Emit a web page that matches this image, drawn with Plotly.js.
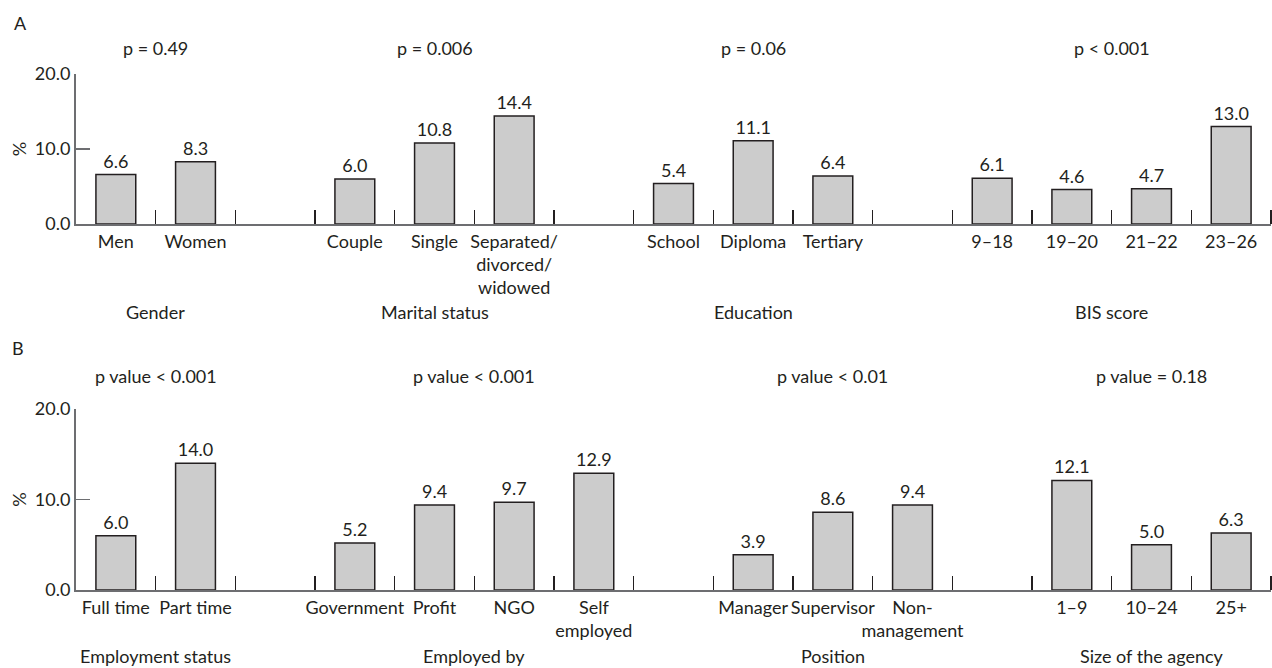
<!DOCTYPE html>
<html>
<head>
<meta charset="utf-8">
<script src="https://cdn.plot.ly/plotly-3.0.1.min.js"></script>
<style>
  html, body { margin: 0; padding: 0; background: #ffffff; }
  #chart { width: 1272px; height: 668px; }
</style>
</head>
<body>
<div id="chart"></div>
<script>
// ---------- Panel A data ----------
const genderLabels = ['Men', 'Women'];
const genderValues = [6.6, 8.3];
const maritalLabels = ['Couple', 'Single', 'Separated/<br>divorced/<br>widowed'];
const maritalValues = [6.0, 10.8, 14.4];
const educationLabels = ['School', 'Diploma', 'Tertiary'];
const educationValues = [5.4, 11.1, 6.4];
const bisLabels = ['9–18', '19–20', '21–22', '23–26'];
const bisValues = [6.1, 4.6, 4.7, 13.0];
const panelATitles = ['Gender', 'Marital status', 'Education', 'BIS score'];
const panelAPvalues = ['p = 0.49', 'p = 0.006', 'p = 0.06', 'p < 0.001'];

// ---------- Panel B data ----------
const employmentLabels = ['Full time', 'Part time'];
const employmentValues = [6.0, 14.0];
const employerLabels = ['Government', 'Profit', 'NGO', 'Self<br>employed'];
const employerValues = [5.2, 9.4, 9.7, 12.9];
const positionLabels = ['Manager', 'Supervisor', 'Non-<br>management'];
const positionValues = [3.9, 8.6, 9.4];
const agencyLabels = ['1–9', '10–24', '25+'];
const agencyValues = [12.1, 5.0, 6.3];
const panelBTitles = ['Employment status', 'Employed by', 'Position', 'Size of the agency'];
const panelBPvalues = ['p value < 0.001', 'p value < 0.001', 'p value < 0.01', 'p value = 0.18'];

const yTicks = [0, 10, 20];

// ---------- styling ----------
const FONT = 'Lato, "Open Sans", sans-serif';
const TXT = '#231f20';
const AXC = '#6d6e71';
const FS = 18;

function buildPanel(labelGroups, valueGroups) {
  const xs = [], ys = [], labels = [], centers = [], bounds = [];
  let pos = 0;
  labelGroups.forEach((labs, gi) => {
    const start = pos;
    labs.forEach((lab, i) => {
      xs.push(pos); ys.push(valueGroups[gi][i]); labels.push(lab);
      pos++;
    });
    centers.push((start + pos - 1) / 2);
    pos++; // empty slot between groups
  });
  const nSlots = pos - 1;
  for (let b = 0; b < nSlots; b++) bounds.push(b + 0.5);
  return { xs, ys, labels, centers, nSlots, bounds };
}

const A = buildPanel([genderLabels, maritalLabels, educationLabels, bisLabels],
                     [genderValues, maritalValues, educationValues, bisValues]);
const B = buildPanel([employmentLabels, employerLabels, positionLabels, agencyLabels],
                     [employmentValues, employerValues, positionValues, agencyValues]);

function barTrace(P, xa, ya) {
  return {
    type: 'bar', x: P.xs, y: P.ys, xaxis: xa, yaxis: ya,
    width: 0.5,
    marker: { color: '#cccccc', line: { color: TXT, width: 1.5 } },
    texttemplate: '%{y:.1f}', textposition: 'outside', cliponaxis: false,
    textfont: { family: FONT, size: FS, color: TXT },
    hoverinfo: 'skip', showlegend: false
  };
}

function xAxis(P, anchor) {
  return {
    anchor: anchor, domain: [0, 1], range: [-0.5, P.nSlots - 0.5],
    tickmode: 'array', tickvals: P.xs, ticktext: P.labels, ticks: '',
    tickangle: 0,
    tickfont: { family: FONT, size: FS, color: TXT },
    showline: true, linecolor: AXC, linewidth: 2,
    showgrid: false, zeroline: false, fixedrange: true,
    minor: { tickmode: 'array', tickvals: P.bounds, ticks: 'inside', ticklen: 14,
             tickwidth: 1.5, tickcolor: TXT, showgrid: false }
  };
}

function yAxis(domain, anchor) {
  return {
    anchor: anchor, domain: domain, range: [0, 20],
    tickmode: 'array', tickvals: yTicks, tickformat: '.1f',
    ticks: 'inside', ticklen: 14, tickwidth: 1.5, tickcolor: AXC,
    tickfont: { family: FONT, size: FS, color: TXT },
    showline: true, linecolor: AXC, linewidth: 2,
    showgrid: false, zeroline: false, fixedrange: true,
    title: { text: '%', standoff: 4, font: { family: FONT, size: FS, color: TXT } }
  };
}

const annotations = [];
function panelAnnotations(P, titles, pvals, xref, ydom, pShift, tShift) {
  P.centers.forEach((c, i) => {
    annotations.push({ xref: xref, yref: ydom, x: c, y: 1, yanchor: 'middle', xanchor: 'center',
      yshift: pShift, text: pvals[i], showarrow: false,
      font: { family: FONT, size: FS, color: TXT } });
    annotations.push({ xref: xref, yref: ydom, x: c, y: 0, yanchor: 'middle', xanchor: 'center',
      yshift: tShift, text: titles[i], showarrow: false,
      font: { family: FONT, size: FS, color: TXT } });
  });
}
panelAnnotations(A, panelATitles, panelAPvalues, 'x', 'y domain', 26, -88);
panelAnnotations(B, panelBTitles, panelBPvalues, 'x2', 'y2 domain', 33, -66);

const L = 76, R = 1, W = 1272;
const plotW = W - L - R;
annotations.push({ xref: 'paper', yref: 'y domain', x: (20 - L) / plotW, y: 1, yshift: 51,
  xanchor: 'center', yanchor: 'middle', text: 'A', showarrow: false,
  font: { family: FONT, size: FS, color: TXT } });
annotations.push({ xref: 'paper', yref: 'y2 domain', x: (18 - L) / plotW, y: 1, yshift: 61,
  xanchor: 'center', yanchor: 'middle', text: 'B', showarrow: false,
  font: { family: FONT, size: FS, color: TXT } });

const layout = {
  width: 1272, height: 668,
  margin: { l: L, r: R, t: 74, b: 78, pad: 0 },
  paper_bgcolor: '#ffffff', plot_bgcolor: 'rgba(0,0,0,0)',
  font: { family: FONT, size: FS, color: TXT },
  bargap: 0.5,
  xaxis: xAxis(A, 'y'),
  yaxis: yAxis([0.7093, 1], 'x'),
  xaxis2: xAxis(B, 'y2'),
  yaxis2: yAxis([0, 0.3508], 'x2'),
  annotations: annotations,
  showlegend: false
};

Plotly.newPlot('chart', [barTrace(A, 'x', 'y'), barTrace(B, 'x2', 'y2')], layout,
  { displayModeBar: false, staticPlot: true });
</script>
</body>
</html>
